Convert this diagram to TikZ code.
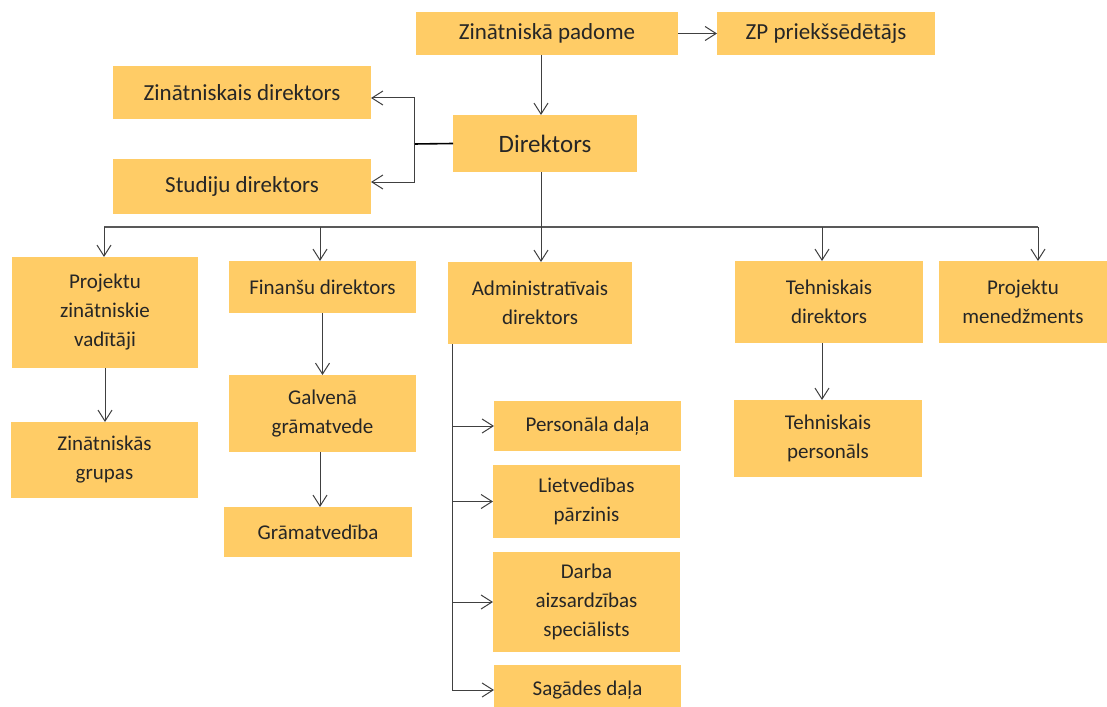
\documentclass[tikz,border=0pt]{standalone}
\usepackage{fontspec}
\setmainfont{Carlito}
\usepackage{tikz}
\usetikzlibrary{arrows.meta, calc}
\definecolor{boxfill}{HTML}{FFCC66}
\definecolor{linegray}{HTML}{404040}

\begin{document}
\begin{tikzpicture}[x=1pt, y=-1pt,
  box/.style={fill=boxfill, inner sep=0pt, outer sep=0pt, align=center, text=black!85,
    font=\fontsize{21}{29}\selectfont},
  bigbox/.style={box, font=\fontsize{23}{29}\selectfont},
  arr/.style={draw=linegray, line width=1pt, -{Straight Barb[length=11pt, width=14pt]}},
  link/.style={draw=linegray, line width=1pt}]
\clip (0,0) rectangle (1107,706);
\fill[white] (0,0) rectangle (1107,706);

% Council and director
\node[bigbox, minimum width=262, minimum height=43] (zpad) at (547,33.5) {Zinātniskā padome};
\node[bigbox, minimum width=218, minimum height=43] (zpp) at (826,33.5) {ZP priekšsēdētājs};
\node[box, font=\fontsize{25}{29}\selectfont, minimum width=184, minimum height=57] (dir) at (545,143.5) {Direktors};
\node[bigbox, minimum width=258, minimum height=53] (zdir) at (242,92.5) {Zinātniskais direktors};
\node[bigbox, minimum width=258, minimum height=55] (sdir) at (242,186.5) {Studiju direktors};

% Second row
\node[box, minimum width=186, minimum height=111] (pzv) at (105,312.5) {Projektu\\zinātniskie\\vadītāji};
\node[box, minimum width=187, minimum height=52] (fin) at (322.5,287) {Finanšu direktors};
\node[box, minimum width=184, minimum height=82] (adm) at (540,303) {Administratīvais\\direktors};
\node[box, minimum width=188, minimum height=82] (tdir) at (829,302) {Tehniskais\\direktors};
\node[box, minimum width=168, minimum height=82] (pm) at (1023,302) {Projektu\\menedžments};

% Lower levels
\node[box, minimum width=187, minimum height=76] (zgr) at (104.5,460) {Zinātniskās\\grupas};
\node[box, minimum width=187, minimum height=77] (galv) at (322.5,413.5) {Galvenā\\grāmatvede};
\node[box, minimum width=188, minimum height=50] (gram) at (318,532) {Grāmatvedība};
\node[box, minimum width=188, minimum height=77] (tpers) at (828,438.5) {Tehniskais\\personāls};

% Administration departments
\node[box, minimum width=187, minimum height=50] (pers) at (587.5,426) {Personāla daļa};
\node[box, minimum width=187, minimum height=73] (liet) at (586.5,501.5) {Lietvedības\\pārzinis};
\node[box, minimum width=187, minimum height=100] (darba) at (586.5,602) {Darba\\aizsardzības\\speciālists};
\node[box, minimum width=187, minimum height=50] (sag) at (587.5,690) {Sagādes daļa};

% Top connectors
\coordinate (b1) at (104,227);
\coordinate (b2) at (320,227);
\coordinate (b3) at (541,227);
\coordinate (b4) at (822,227);
\coordinate (b5) at (1038,227);
\draw[arr] (zpad.east) -- (zpp.west);
\draw[arr] (zpad.south -| b3) -- (b3 |- dir.north);

\coordinate (dj) at (414,144);
\draw[link, draw=black, line width=1.6pt] (dir.west) -- (dj);
\draw[arr] (dj) |- ($(zdir.east)+(0,5.5)$);
\draw[arr] (dj) |- ($(sdir.east)+(0,-4.5)$);

% Bus to second row
\draw[link, draw=black!65, line width=1.3pt] (b1) -- (b5);
\draw[arr] (dir.south -| b3) -- (b3 |- adm.north);
\foreach \c/\n in {b1/pzv, b2/fin, b4/tdir, b5/pm}
  \draw[arr] (\c) -- (\c |- \n.north);

% Down the columns
\draw[arr] (pzv.south) -- (pzv.south |- zgr.north);
\draw[arr] (fin.south) -- (fin.south |- galv.north);
\draw[arr] (galv.south -| b2) -- (b2 |- gram.north);
\draw[arr] (tdir.south -| b4) -- (b4 |- tpers.north);

% Administration branch
\coordinate (av) at (452,344);
\draw[link] (av) -- (av |- sag.west);
\foreach \n in {pers, liet, darba, sag}
  \draw[arr] (av |- \n.west) -- (\n.west);
\end{tikzpicture}
\end{document}
